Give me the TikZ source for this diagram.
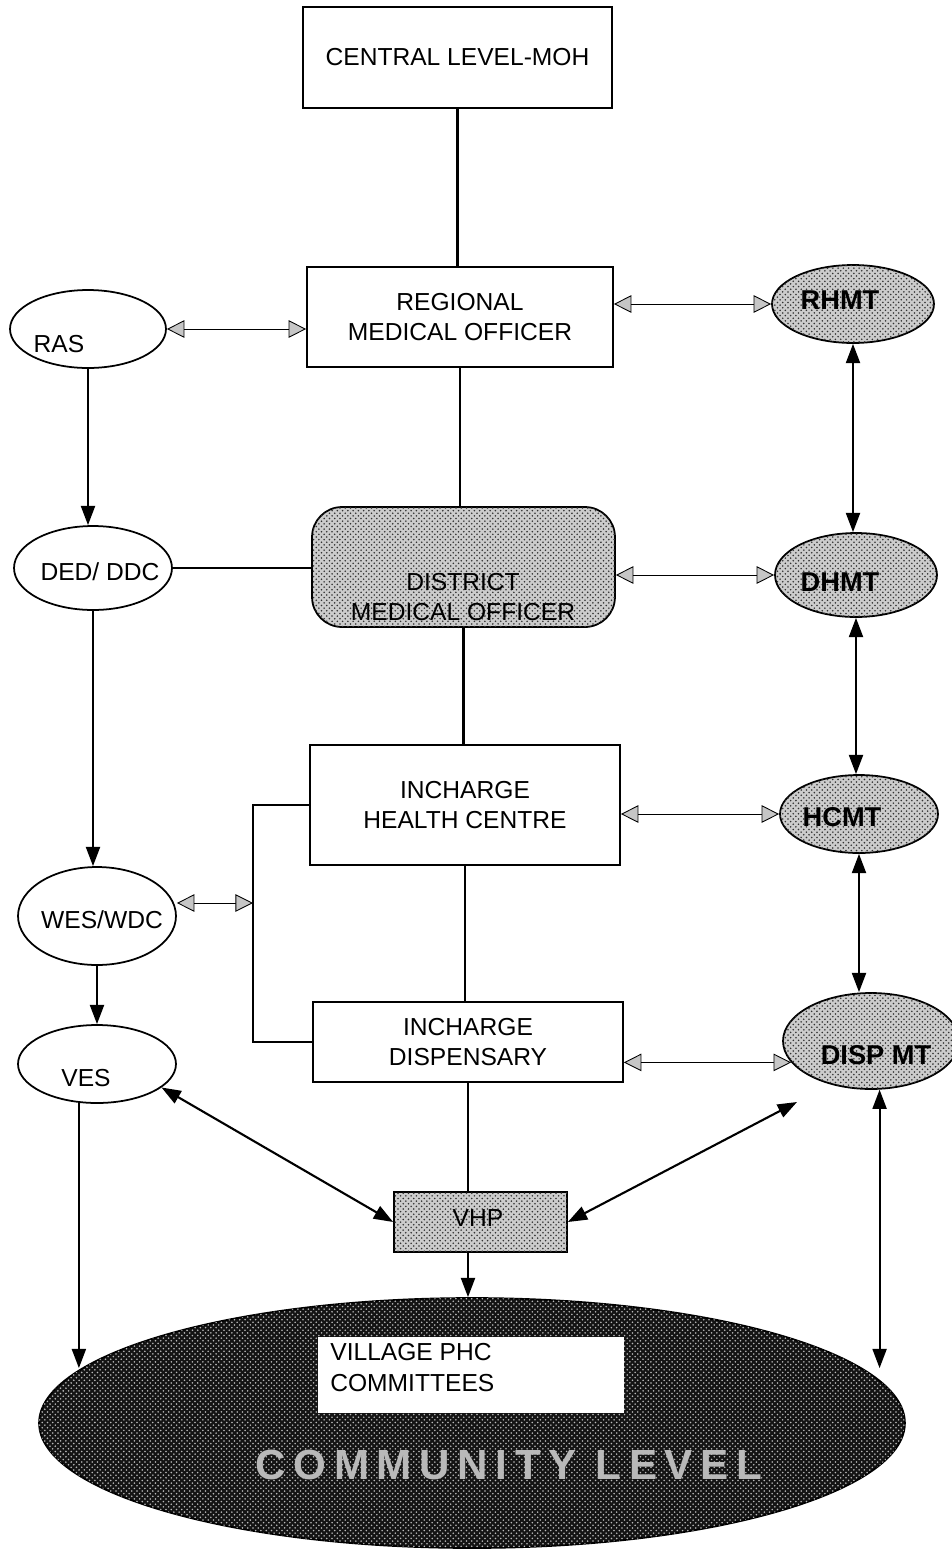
\documentclass[tikz,border=0pt]{standalone}
\usepackage{fontspec}
\setmainfont{Liberation Sans}
\usetikzlibrary{shapes.geometric,arrows.meta,patterns}
\tikzset{ % common looks of the chart
	box/.style={draw,line width=1pt,rectangle,inner sep=0pt,align=center},
	oval/.style={draw,line width=1pt,ellipse,inner sep=0pt},
	grain/.style={fill=gray!40,postaction={pattern=crosshatch dots,pattern color=black!80}},
	txt/.style={align=center,inner sep=0pt},
	team/.style={txt,font=\fontsize{15.5}{18}\selectfont\bfseries},
	link/.style={line width=1.2pt},
	hdbl/.style={line width=0.5pt,{Triangle[length=10pt,width=10pt,fill=gray!45]}-{Triangle[length=10pt,width=10pt,fill=gray!45]}},
	vdbl/.style={line width=1.2pt,{Triangle[length=11pt,width=8pt]}-{Triangle[length=11pt,width=8pt]}},
	down/.style={line width=1.2pt,-{Triangle[length=11pt,width=8pt]}}
}
\begin{document}
\begin{tikzpicture}[x=0.02cm,y=-0.02cm,font=\fontsize{14}{17.6}\selectfont]
		\useasboundingbox (0,0) rectangle (951,1549);
		\fill[white] (0,0) rectangle (951,1549);
		% Middle column
		\node[box,minimum width=6.18cm,minimum height=2.02cm] (moh) at (457.5,57.5) {CENTRAL LEVEL-MOH};
		\node[box,minimum width=6.12cm,minimum height=2cm] (rmo) at (460,317) {REGIONAL\\MEDICAL OFFICER};
		\node[box,grain,rounded corners=0.6cm,minimum width=6.06cm,minimum height=2.4cm] (dmo) at (463.5,567) {};
		\node[txt] (dmol) at (463,597) {DISTRICT\\MEDICAL OFFICER};
		\node[box,minimum width=6.2cm,minimum height=2.4cm] (ihc) at (465,805) {INCHARGE\\HEALTH CENTRE};
		\node[box,minimum width=6.2cm,minimum height=1.6cm] (ihd) at (468,1042) {INCHARGE\\DISPENSARY};
		\node[box,grain,minimum width=3.46cm,minimum height=1.2cm] (vhp) at (480.5,1222) {};
		\node[txt] (vhpl) at (478,1218) {VHP};
		% Left column
		\node[oval,minimum width=3.12cm,minimum height=1.56cm] (ras) at (88,329) {};
		\node[txt] (rasl) at (59,344) {RAS};
		\node[oval,minimum width=3.16cm,minimum height=1.68cm] (ded) at (93,568) {};
		\node[txt] (dedl) at (100,572) {DED/ DDC};
		\node[oval,minimum width=3.16cm,minimum height=1.96cm] (wes) at (97,916) {};
		\node[txt] (wesl) at (102,920) {WES/WDC};
		\node[oval,minimum width=3.16cm,minimum height=1.56cm] (ves) at (97,1064) {};
		\node[txt] (vesl) at (86,1078) {VES};
		% Right column
		\node[oval,grain,minimum width=3.24cm,minimum height=1.56cm] (rhmt) at (853,304) {};
		\node[team] (rhmtl) at (840,300) {RHMT};
		\node[oval,grain,minimum width=3.24cm,minimum height=1.68cm] (dhmt) at (856,575) {};
		\node[team] (dhmtl) at (840,582) {DHMT};
		\node[oval,grain,minimum width=3.16cm,minimum height=1.56cm] (hcmt) at (859,814) {};
		\node[team] (hcmtl) at (842,817) {HCMT};
		\node[oval,grain,minimum width=3.52cm,minimum height=1.92cm] (disp) at (871,1041) {};
		\node[team] (displ) at (876,1055) {DISP MT};
		% Community
		\node[oval,fill=black!92,postaction={pattern=crosshatch dots,pattern color=gray!55},minimum width=17.32cm,minimum height=5cm] (com) at (472,1423) {};
		\node[fill=white,minimum width=6.12cm,minimum height=1.52cm] (vpc) at (471,1375) {};
		\node[txt,align=left,anchor=north west] (vpcl) at (330,1343) {VILLAGE PHC\\COMMITTEES};
		\node[font=\fontsize{24}{28}\selectfont\bfseries\addfontfeature{LetterSpace=18},text=gray!55] (coml) at (509,1465) {COMMUNITY LEVEL};
		\coordinate (brk) at (253,903);
		\coordinate (vdtip) at (797,1102);
		% Trunk lines
		\draw[link] (moh.south) -- (moh.south |- rmo.north);
		\draw[link] (rmo.south) -- (rmo.south |- dmo.north);
		\draw[link] (dmo.south) -- (dmo.south |- ihc.north);
		\draw[link] (ihc.south) -- (ihc.south |- ihd.north);
		\draw[link] (ihd.south) -- (ihd.south |- vhp.north);
		% Left side
		\draw[down] (ras.south) -- (ras.south |- ded.north);
		\draw[link] (ded.east) -- (ded.east -| dmo.west);
		\draw[down] (ded.south) -- (ded.south |- wes.north);
		\draw[down] (wes.south) -- (wes.south |- ves.north);
		\draw[line width=1pt] (ihc.west) -| (brk) |- (ihd.west);
		\draw[hdbl] (brk -| wes.east) -- (brk);
		% Horizontal links
		\draw[hdbl] (ras.east) -- (ras.east -| rmo.west);
		\draw[hdbl] (rmo.east |- rhmt.west) -- (rhmt.west);
		\draw[hdbl] (dmo.east |- dhmt.west) -- (dhmt.west);
		\draw[hdbl] (ihc.east |- hcmt.west) -- (hcmt.west);
		\draw[hdbl] (ihd.east |- disp.195) -- (disp.195);
		% Team chain
		\draw[vdbl] (rhmt.south) -- (rhmt.south |- dhmt.north);
		\draw[vdbl] (dhmt.south) -- (dhmt.south |- hcmt.north);
		\draw[vdbl] (hcmt.south) -- (hcmt.south |- disp.north);
		% Down to the village
		\draw[vdbl] (ves.340) -- (vhp.west);
		\draw[vdbl] (vhp.east) -- (vdtip);
		\draw[down] (ihd.south |- vhp.south) -- (ihd.south |- com.north);
		\draw[down] (ves.245) -- (ves.245 |- com.172);
		\draw[vdbl] (disp.280) -- (disp.280 |- com.8);
\end{tikzpicture}
\end{document}
